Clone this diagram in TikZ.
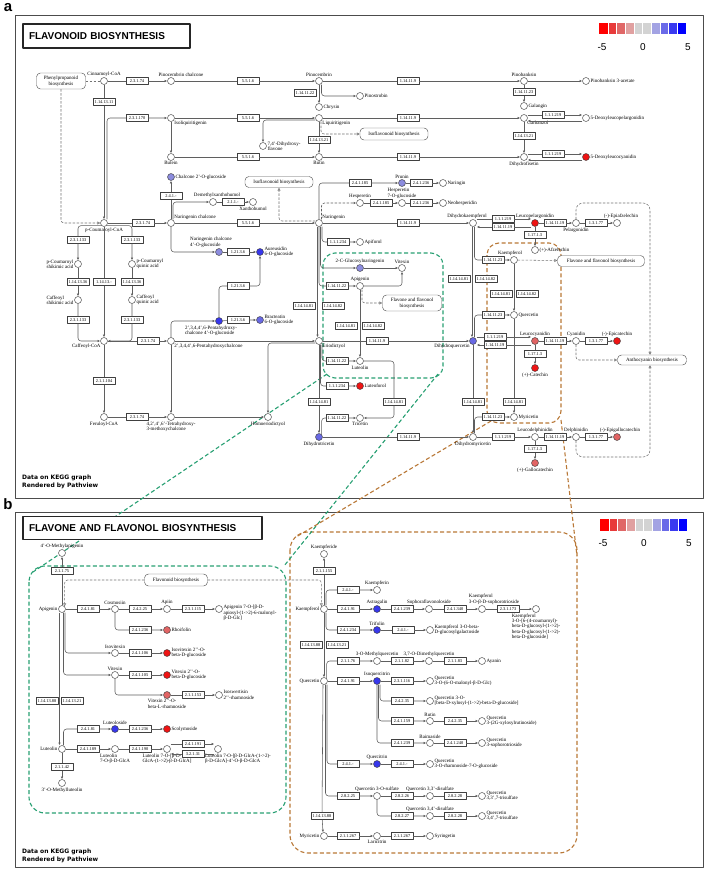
\documentclass[tikz,border=0pt]{standalone}
\usepackage{fontspec}
\setmainfont{Liberation Serif}
\newfontfamily\lsans{Liberation Sans}
\newfontfamily\dvsans{DejaVu Sans}
\usetikzlibrary{arrows.meta}
\definecolor{cLB}{RGB}{140,140,222}
\definecolor{cMB}{RGB}{105,105,228}
\definecolor{cB}{RGB}{55,55,235}
\definecolor{cR}{RGB}{238,20,20}
\definecolor{cPR}{RGB}{225,100,100}
\definecolor{gDash}{RGB}{40,160,115}
\definecolor{oDash}{RGB}{185,120,55}
\definecolor{lnC}{RGB}{95,95,95}
\definecolor{lg0}{HTML}{FF0000}
\definecolor{lg1}{HTML}{E83A3A}
\definecolor{lg2}{HTML}{E06767}
\definecolor{lg3}{HTML}{E0A0A0}
\definecolor{lg4}{HTML}{D3D3D3}
\definecolor{lg5}{HTML}{D3D3D3}
\definecolor{lg6}{HTML}{A3A3E3}
\definecolor{lg7}{HTML}{6A6AE8}
\definecolor{lg8}{HTML}{3A3AF0}
\definecolor{lg9}{HTML}{0000FF}
\tikzset{
 cpd/.style={circle, draw=black!75, line width=0.45pt, minimum size=7pt, inner sep=0pt, fill=white},
 enz/.style={rectangle, draw=black!75, line width=0.4pt, fill=white, font=\fontsize{4.4}{4.6}\selectfont, inner xsep=0.8pt, inner ysep=0pt, minimum height=7pt, minimum width=22pt},
 mapbox/.style={rectangle, rounded corners=4pt, draw=black!65, line width=0.45pt, fill=white, font=\fontsize{5}{5.6}\selectfont, align=center, inner xsep=3pt, inner ysep=1.5pt},
 rx/.style={draw=lnC, line width=0.55pt, rounded corners=3pt, -{Latex[length=2.6pt,width=2.4pt]}},
 mapln/.style={draw=black!55, line width=0.55pt, dash pattern=on 2.5pt off 1.5pt, rounded corners=3pt, -{Triangle[open,length=3pt,width=3pt]}},
 every label/.style={font=\fontsize{5}{5.4}\selectfont, inner sep=0.4pt, align=left, text=black},
 label distance=0.3pt,
 region/.style={line width=1.1pt, dash pattern=on 4pt off 2.5pt},
 frame/.style={draw=black!70, line width=0.8pt},
 titlebox/.style={draw=black!85, line width=1.1pt, fill=white, font=\lsans\bfseries\fontsize{10}{12}\selectfont, align=left, inner xsep=6pt},
}
\begin{document}
\begin{tikzpicture}[x=1pt, y=-1pt, line join=round]
\fill[white] (0,0) rectangle (708,871);
\useasboundingbox (0,0) rectangle (708,871);
% panels
\draw[frame] (15,15) rectangle (703,498);
\draw[frame] (15,512) rectangle (703,867);
% regions and their links
\draw[gDash, region, rounded corners=12pt] (323,253) rectangle (443,378);
\draw[oDash, region, rounded corners=12pt] (487,243) rectangle (561,423);
\draw[gDash, region, rounded corners=16pt] (29,566) rectangle (286,813);
\draw[oDash, region, rounded corners=18pt] (290,532) rectangle (577,853);
\coordinate (g1a) at (327,374); \coordinate (g1b) at (33,572);
\coordinate (g2a) at (438,374); \coordinate (g2b) at (284,566);
\coordinate (o1a) at (491,421); \coordinate (o1b) at (296,537);
\coordinate (o2a) at (561,420); \coordinate (o2b) at (577,556);
\draw[gDash, region] (g1a) -- (g1b);
\draw[gDash, region] (g2a) -- (g2b);
\draw[oDash, region] (o1a) -- (o1b);
\draw[oDash, region] (o2a) -- (o2b);
% titles and legends
\node[titlebox, text width=155pt, minimum height=24pt] (ta) at (106.5,36) {FLAVONOID BIOSYNTHESIS};
\node[titlebox, text width=227pt, minimum height=23pt] (tb) at (142.5,528) {FLAVONE AND FLAVONOL BIOSYNTHESIS};
\node[font=\lsans\bfseries\fontsize{15}{15}\selectfont, inner sep=0pt] (pa) at (8,8) {a};
\node[font=\lsans\bfseries\fontsize{15}{15}\selectfont, inner sep=0pt] (pb) at (8,504) {b};
\foreach \i in {0,...,9} {
  \fill[lg\i] ({599+8.7*\i},23) rectangle ({599+8.7*(\i+1)},34);
  \fill[lg\i] ({600+8.7*\i},519) rectangle ({600+8.7*(\i+1)},531);
}
\foreach \i in {1,...,9} {
  \draw[white, line width=0.4pt] ({599+8.7*\i},23) -- ++(0,11);
  \draw[white, line width=0.4pt] ({600+8.7*\i},519) -- ++(0,12);
}
\node[font=\lsans\fontsize{10}{12}\selectfont] (la1) at (602,47) {-5};
\node[font=\lsans\fontsize{10}{12}\selectfont] (la2) at (643,47) {0};
\node[font=\lsans\fontsize{10}{12}\selectfont] (la3) at (688,47) {5};
\node[font=\lsans\fontsize{10}{12}\selectfont] (lb1) at (603,543) {-5};
\node[font=\lsans\fontsize{10}{12}\selectfont] (lb2) at (644,543) {0};
\node[font=\lsans\fontsize{10}{12}\selectfont] (lb3) at (689,543) {5};
\node[anchor=north west, font=\dvsans\bfseries\fontsize{6}{7.5}\selectfont, align=left, inner sep=0pt] (dataA) at (22,475) {Data on KEGG graph\\Rendered by Pathview};
\node[anchor=north west, font=\dvsans\bfseries\fontsize{6}{7.5}\selectfont, align=left, inner sep=0pt] (dataB) at (22,849) {Data on KEGG graph\\Rendered by Pathview};

% ===== panel a: map boxes
\node[mapbox, minimum width=49pt, minimum height=16pt] (phen) at (61,81) {Phenylpropanoid\\biosynthesis};
\node[mapbox, minimum width=68pt, minimum height=12pt] (isoflavA) at (394,134) {Isoflavonoid biosynthesis};
\node[mapbox, minimum width=68pt, minimum height=11pt] (isoflavB) at (279,182) {Isoflavonoid biosynthesis};
\node[mapbox, minimum width=59pt, minimum height=16pt] (ffbA) at (412,303) {Flavone and flavonol\\biosynthesis};
\node[mapbox, minimum width=87pt, minimum height=11pt] (ffbB) at (601,261) {Flavone and flavonol biosynthesis};
\node[mapbox, minimum width=69pt, minimum height=10pt] (antho) at (652,360) {Anthocyanin biosynthesis};

% ===== panel a: compounds
\node[cpd, label={above:Cinnamoyl-CoA}] (cin) at (104,81) {};
\node[cpd, label={[xshift=10pt]above:Pinocembrin chalcone}] (pcc) at (171,81) {};
\node[cpd, label={above:Pinocembrin}] (pino) at (319,81) {};
\node[cpd, label={right:Chrysin}] (chry) at (319,107) {};
\node[cpd, label={right:Pinostrobin}] (pinst) at (360,96) {};
\node[cpd, label={above:Pinobanksin}] (pinob) at (524,81) {};
\node[cpd, label={right:Pinobanksin 3-acetate}] (pinoba) at (586,81) {};
\node[cpd, label={right:Galangin}] (gal) at (524,106) {};
\node[cpd, label={below right:Isoliquiritigenin}] (isoliq) at (171,118) {};
\node[cpd, label={below:Butein}] (butein) at (171,157) {};
\node[cpd, label={below right:Liquiritigenin}] (liq) at (319,118) {};
\node[cpd, label={right:{7,4'-Dihydroxy-\\flavone}}] (dhf) at (263,146) {};
\node[cpd, label={below:Butin}] (butin) at (319,157) {};
\node[cpd, label={below right:Garbanzol}] (garb) at (524,118) {};
\node[cpd, label={right:5-Deoxyleucopelargonidin}] (dlpel) at (586,118) {};
\node[cpd, label={below:Dihydrofisetin}] (dhfis) at (524,157) {};
\node[cpd, fill=cR, label={right:5-Deoxyleucocyanidin}] (dlcya) at (586,157) {};
\node[cpd, fill=cLB, label={right:Chalcone 2'-O-glucoside}] (c2g) at (171,177) {};
\node[cpd, label={above right:Naringenin chalcone}] (narch) at (171,223) {};
\node[cpd, label={[xshift=4pt]above:Demethylxanthohumol}] (dmx) at (213,202) {};
\node[cpd, label={below:Xanthohumol}] (xan) at (253,202) {};
\node[cpd, label={below:p-Coumaroyl-CoA}] (pcoa) at (104,223) {};
\node[cpd, label={above right:Naringenin}] (nar) at (319,223) {};
\node[cpd, label={[xshift=-6pt]above:Dihydrokaempferol}] (dhk) at (473,223) {};
\node[cpd, fill=cLB, label={above:Prunin}] (prunin) at (402,183) {};
\node[cpd, label={right:Naringin}] (naringin) at (443,183) {};
\node[cpd, label={above:Hesperetin}] (hesp) at (360,203) {};
\node[cpd, label={above:{Hesperetin\\7-O-glucoside}}] (hesp7) at (402,203) {};
\node[cpd, label={right:Neohesperidin}] (neohesp) at (443,203) {};
\node[cpd, label={right:Apiforol}] (apif) at (360,242) {};
\node[cpd, fill=cLB, label={[xshift=-8pt]above:{Naringenin chalcone\\4'-O-glucoside}}] (ncg) at (219,252) {};
\node[cpd, fill=cB, label={right:{Aureusidin\\6-O-glucoside}}] (aur) at (260,252) {};
\node[cpd, fill=cB, label={[xshift=-8pt]below:{2',3,4,4',6-Pentahydroxy-\\chalcone 4'-O-glucoside}}] (phg) at (219,321) {};
\node[cpd, fill=cMB, label={right:{Bracteatin\\6-O-glucoside}}] (bract) at (260,320) {};
\node[cpd, fill=cLB, label={above:2-C-Glucosylnaringenin}] (cgn) at (360,268) {};
\node[cpd, label={above:Vitexin}] (vitx) at (402,268) {};
\node[cpd, label={above:Apigenin}] (api) at (360,286) {};
\node[cpd, label={below right:Eriodictyol}] (erio) at (319,341) {};
\node[cpd, fill=cMB, label={below left:Dihydroquercetin}] (dhq) at (473,341) {};
\node[cpd, label={below:Luteolin}] (lut) at (360,361) {};
\node[cpd, fill=cR, label={right:Luteoforol}] (lutf) at (360,386) {};
\node[cpd, label={below:Tricetin}] (tric) at (360,418) {};
\node[cpd, fill=cMB, label={below:Dihydrotricetin}] (dht) at (319,437) {};
\node[cpd, label={below:Dihydromyricetin}] (dhm) at (473,437) {};
\node[cpd, label={below:Homoeriodictyol}] (homo) at (268,417) {};
\node[cpd, label={below right:{2',3,4,4',6-Pentahydroxychalcone}}] (pent) at (171,341) {};
\node[cpd, label={below left:Caffeoyl-CoA}] (caf) at (104,341) {};
\node[cpd, label={left:{p-Coumaroyl\\shikimic acid}}] (pcsa) at (78,264) {};
\node[cpd, label={right:{p-Coumaroyl\\quinic acid}}] (pcqa) at (132,264) {};
\node[cpd, label={left:{Caffeoyl\\shikimic acid}}] (cfsa) at (78,300) {};
\node[cpd, label={right:{Caffeoyl\\quinic acid}}] (cfqa) at (132,300) {};
\node[cpd, label={below:Feruloyl-CoA}] (fer) at (104,417) {};
\node[cpd, label={below:{4,2',4',6'-Tetrahydroxy-\\3-methoxychalcone}}] (tetra) at (171,417) {};
\node[cpd, fill=cR, label={above:Leucopelargonidin}] (lpel) at (535,223) {};
\node[cpd, label={below:Pelargonidin}] (pel) at (576,223) {};
\node[cpd, label={[xshift=4pt]above:(-)-Epiafzelechin}] (epiaf) at (617,223) {};
\node[cpd, label={right:(+)-Afzelechin}] (afz) at (535,250) {};
\node[cpd, label={[xshift=-4pt]above:Kaempferol}] (kae) at (514,260) {};
\node[cpd, label={right:Quercetin}] (que) at (514,315) {};
\node[cpd, fill=cPR, label={above:Leucocyanidin}] (lcya) at (535,341) {};
\node[cpd, label={above:Cyanidin}] (cya) at (576,341) {};
\node[cpd, fill=cR, label={above:(-)-Epicatechin}] (epic) at (617,341) {};
\node[cpd, fill=cR, label={below:(+)-Catechin}] (cat) at (535,368) {};
\node[cpd, label={right:Myricetin}] (myr) at (514,417) {};
\node[cpd, label={above:Leucodelphinidin}] (ldel) at (535,437) {};
\node[cpd, label={above:Delphinidin}] (del) at (576,437) {};
\node[cpd, fill=cPR, label={[xshift=3pt]above:(-)-Epigallocatechin}] (epig) at (617,437) {};
\node[cpd, fill=cPR, label={below:(+)-Gallocatechin}] (gcat) at (535,463) {};

% ===== panel a: enzymes
\node[enz] (e1) at (137,81) {2.3.1.74};
\node[enz] (e2) at (248,81) {5.5.1.6};
\node[enz] (e3) at (104,102) {1.14.13.11};
\node[enz] (e4) at (137,118) {2.3.1.170};
\node[enz] (e5) at (248,118) {5.5.1.6};
\node[enz] (e6) at (248,157) {5.5.1.6};
\node[enz] (e7) at (171,196) {2.4.1.-};
\node[enz] (e8) at (233,202) {2.1.1.-};
\node[enz] (e9) at (143,223) {2.3.1.74};
\node[enz] (e10) at (248,223) {5.5.1.6};
\node[enz] (e11) at (78,240) {2.3.1.133};
\node[enz] (e12) at (132,240) {2.3.1.133};
\node[enz] (e13) at (78,282) {1.14.13.36};
\node[enz] (e14) at (104,282) {1.14.13.-};
\node[enz] (e15) at (132,282) {1.14.13.36};
\node[enz] (e16) at (78,320) {2.3.1.133};
\node[enz] (e17) at (132,320) {2.3.1.133};
\node[enz] (e18) at (148,341) {2.3.1.74};
\node[enz] (e19) at (104,381) {2.1.1.104};
\node[enz] (e20) at (137,417) {2.3.1.74};
\node[enz] (e21) at (305,93) {1.14.11.22};
\node[enz] (e22) at (408,81) {1.14.11.9};
\node[enz] (e23) at (319,140) {1.14.13.21};
\node[enz] (e24) at (408,118) {1.14.11.9};
\node[enz] (e25) at (408,157) {1.14.11.9};
\node[enz] (e26) at (524,92) {1.14.11.23};
\node[enz] (e27) at (553,115) {1.1.1.219};
\node[enz] (e28) at (524,136) {1.14.13.21};
\node[enz] (e29) at (553,154) {1.1.1.219};
\node[enz] (e30) at (360,183) {2.4.1.185};
\node[enz] (e31) at (421,183) {2.4.1.236};
\node[enz] (e32) at (381,203) {2.4.1.185};
\node[enz] (e33) at (421,203) {2.4.1.236};
\node[enz] (e34) at (408,223) {1.14.11.9};
\node[enz] (e35) at (338,242) {1.1.1.234};
\node[enz] (e36) at (238,252) {1.21.3.6};
\node[enz] (e37) at (238,286) {1.21.3.6};
\node[enz] (e38) at (238,320) {1.21.3.6};
\node[enz] (e39) at (337,286) {1.14.11.22};
\node[enz] (e40) at (304,306) {1.14.14.81};
\node[enz] (e41) at (333,306) {1.14.14.82};
\node[enz] (e42) at (346,326) {1.14.14.81};
\node[enz] (e43) at (373,326) {1.14.14.82};
\node[enz] (e44) at (377,341) {1.14.11.9};
\node[enz] (e45) at (337,361) {1.14.11.22};
\node[enz] (e46) at (337,386) {1.1.1.234};
\node[enz] (e47) at (394,402) {1.14.14.81};
\node[enz] (e48) at (337,418) {1.14.11.22};
\node[enz] (e49) at (319,402) {1.14.14.81};
\node[enz] (e50) at (408,437) {1.14.11.9};
\node[enz] (e51) at (459,279) {1.14.14.81};
\node[enz] (e52) at (486,279) {1.14.14.82};
\node[enz] (e53) at (493,260) {1.14.11.23};
\node[enz] (e54) at (501,294) {1.14.14.81};
\node[enz] (e55) at (527,294) {1.14.14.82};
\node[enz] (e56) at (493,315) {1.14.11.23};
\node[enz] (e57) at (503,219) {1.1.1.219};
\node[enz] (e58) at (503,227) {1.14.11.19};
\node[enz] (e59) at (555,223) {1.14.11.19};
\node[enz] (e60) at (596,223) {1.3.1.77};
\node[enz] (e61) at (535,235) {1.17.1.3};
\node[enz] (e62) at (495,337) {1.1.1.219};
\node[enz] (e63) at (495,345) {1.14.11.19};
\node[enz] (e64) at (555,341) {1.14.11.19};
\node[enz] (e65) at (596,341) {1.3.1.77};
\node[enz] (e66) at (535,354) {1.17.1.3};
\node[enz] (e67) at (473,402) {1.14.14.81};
\node[enz] (e68) at (514,402) {1.14.14.81};
\node[enz] (e69) at (493,417) {1.14.11.23};
\node[enz] (e70) at (503,437) {1.1.1.219};
\node[enz] (e71) at (555,437) {1.14.11.19};
\node[enz] (e72) at (596,437) {1.3.1.77};
\node[enz] (e73) at (535,449) {1.17.1.3};

% ===== panel a: connectors
\draw[draw=black!55, line width=0.55pt, dash pattern=on 2.5pt off 1.5pt] (phen) -- (cin);
\draw[mapln] (phen.south) |- (pcoa);
\draw[rx] (cin) -- (e1) -- (pcc);
\draw[rx] (pcc) -- (e2) -- (pino);
\draw[rx] (cin) -- (e3) -- (pcoa);
\draw[rx] ([xshift=3pt]pcoa.north) |- (e4) -- (isoliq);
\draw[rx] (isoliq) -- (butein);
\draw[rx] (isoliq) -- (e5) -- (liq);
\draw[rx] (butein) -- (e6) -- (butin);
\draw[rx] (narch) -- (e7) -- (c2g);
\draw[rx] ([xshift=2pt]narch.north) |- (dmx);
\draw[rx] (dmx) -- (e8) -- (xan);
\draw[rx] (pcoa) -- (e9) -- (narch);
\draw[rx] (narch) -- (e10) -- (nar);
\draw[rx] (pcoa.south west) -| (e11) -- (pcsa);
\draw[rx] (pcoa.south east) -| (e12) -- (pcqa);
\draw[rx] (pcsa) -- (e13) -- (cfsa);
\draw[rx] (pcoa) -- (e14) -- (caf);
\draw[rx] (pcqa) -- (e15) -- (cfqa);
\draw[rx] (cfsa) -- (e16) |- (caf);
\draw[rx] (cfqa) -- (e17) |- (caf);
\draw[rx] (caf) -- (e18) -- (pent);
\draw[rx] (caf) -- (e19) -- (fer);
\draw[rx] (fer) -- (e20) -- (tetra);
\draw[rx] (pent) -- (tetra);
\draw[rx] (narch.south) |- (ncg);
\draw[rx] (ncg) -- (e36) -- (aur);
\draw[rx] (pent.north) |- (phg);
\draw[rx] (phg.north) |- (e37) -| (aur);
\draw[rx] (phg) -- (e38) -- (bract);
\draw[rx] (pent) -- (erio);
\draw[rx] (tetra) -- (homo);
\draw[rx] ([yshift=-2pt]erio.west) -| (homo);
\draw[rx] (pino) -- (chry);
\draw[rx] ([xshift=2.5pt]pino.south) |- (pinst);
\draw[rx] (pino) -- (e22) -- (pinob);
\draw[rx] (pinob) -- (pinoba);
\draw[rx] (pinob) -- (e26) -- (gal);
\draw[rx] (liq) -- (e23) -- (butin);
\draw[rx] ([yshift=-2pt]liq.west) -| (dhf);
\draw[mapln] ([xshift=2pt]liq.south) |- (isoflavA);
\draw[rx] (liq) -- (e24) -- (garb);
\draw[rx] (butin) -- (e25) -- (dhfis);
\draw[rx] ([yshift=3pt]garb.east) -- (e27) -- ([yshift=3pt]dlpel.west);
\draw[rx] ([yshift=-3pt]dlpel.west) -- ([yshift=-3pt]garb.east);
\draw[rx] (garb) -- (e28) -- (dhfis);
\draw[rx] ([yshift=3pt]dhfis.east) -- (e29) -- ([yshift=3pt]dlcya.west);
\draw[rx] ([yshift=-3pt]dlcya.west) -- ([yshift=-3pt]dhfis.east);
\draw[mapln] ([yshift=2pt]nar.west) -| (isoflavB);
\draw[rx] (nar.north) |- (e30) -- (prunin);
\draw[rx, dash pattern=on 2.5pt off 1.5pt] ([xshift=2.5pt]nar.north) |- (hesp);
\draw[rx] (prunin) -- (e31) -- (naringin);
\draw[rx] (hesp) -- (e32) -- (hesp7);
\draw[rx] (hesp7) -- (e33) -- (neohesp);
\draw[rx] (nar) -- (e34) -- (dhk);
\draw[rx] ([xshift=3pt]nar.south) |- (e35) -- (apif);
\draw[rx] ([xshift=1.5pt]nar.south) |- (cgn);
\draw[rx] (nar.south) |- (e39) -- (api);
\draw[rx] ([xshift=-1.5pt]nar.south) -- ([xshift=-1.5pt]erio.north);
\draw[rx] (cgn) -- (vitx);
\draw[rx] (api) -| (vitx);
\draw[mapln] ([xshift=2pt]api.south) |- (ffbA);
\draw[rx] (api) -- (lut);
\draw[rx] (erio) -- (e44) -- (dhq);
\draw[rx] ([xshift=3pt]erio.south) |- (e45) -- (lut);
\draw[rx] ([xshift=1.5pt]erio.south) |- (e46) -- (lutf);
\draw[rx] (erio) -- (e49) -- (dht);
\draw[rx] (lut) -| (e47) |- (tric);
\draw[rx] (dht.north east) |- (e48) -- (tric);
\draw[rx] (dht) -- (e50) -- (dhm);
\draw[rx] ([xshift=-1pt]dhk.south) -- ([xshift=-1pt]dhq.north);
\draw[rx] ([xshift=1.5pt]dhk.south) |- (e53) -- (kae);
\draw[rx] (kae) -- (que);
\draw[mapln] (kae) -- (ffbB);
\draw[rx] ([xshift=1.5pt]dhq.north) |- (e56) -- (que);
\draw[rx] ([yshift=4pt]dhk.east) -- (e57) -- ([yshift=4pt]lpel.west);
\draw[rx] ([yshift=-4pt]lpel.west) -- (e58) -- ([yshift=-4pt]dhk.east);
\draw[rx] (lpel) -- (e59) -- (pel);
\draw[rx] (pel) -- (e60) -- (epiaf);
\draw[rx] (lpel) -- (e61) -- (afz);
\draw[rx] ([yshift=4pt]dhq.east) -- (e62) -- ([yshift=4pt]lcya.west);
\draw[rx] ([yshift=-4pt]lcya.west) -- (e63) -- ([yshift=-4pt]dhq.east);
\draw[rx] (lcya) -- (e64) -- (cya);
\draw[rx] (cya) -- (e65) -- (epic);
\draw[rx] (lcya) -- (e66) -- (cat);
\draw[mapln] (cya.south) |- (antho);
\draw[rx] (dhq) -- (e67) -- (dhm);
\draw[rx] (que) -- (e68) -- (myr);
\draw[rx] ([xshift=1.5pt]dhm.north) |- (e69) -- (myr);
\draw[rx] (dhm) -- (e70) -- (ldel);
\draw[rx] (ldel) -- (e71) -- (del);
\draw[rx] (del) -- (e72) -- (epig);
\draw[rx] (ldel) -- (e73) -- (gcat);
\coordinate (atop) at (650,203);
\coordinate (abot) at (650,457);
\draw[mapln, rounded corners=7pt] (pel.north) |- (atop) -- (atop |- antho.north);
\draw[mapln, rounded corners=7pt] (del.south) |- (abot) -- (abot |- antho.south);

% ===== panel b: nodes
\node[mapbox, minimum width=63pt, minimum height=12pt] (flavb) at (176,580) {Flavonoid biosynthesis};
\node[cpd, label={above:4'-O-Methylapigenin}] (meapi) at (62,553) {};
\node[cpd, label={left:Apigenin}] (apib) at (62,609) {};
\node[cpd, label={above:Cosmosiin}] (cosm) at (115,609) {};
\node[cpd, label={above:Apiin}] (apiin) at (167,609) {};
\node[cpd, label={[yshift=-4pt]right:{Apigenin 7-O-[β-D-\\apiosyl-(1->2)-6-malonyl-\\β-D-Glc]}}] (apimal) at (219,609) {};
\node[cpd, fill=cPR, label={right:Rhoifolin}] (rhoi) at (167,630) {};
\node[cpd, label={above:Isovitexin}] (isov) at (115,653) {};
\node[cpd, fill=cR, label={right:{Isovitexin 2'{}'-O-\\beta-D-glucoside}}] (isovg) at (167,653) {};
\node[cpd, label={above:Vitexin}] (vitb) at (115,675) {};
\node[cpd, fill=cR, label={right:{Vitexin 2'{}'-O-\\beta-D-glucoside}}] (vitg) at (167,675) {};
\node[cpd, fill=cPR, label={below:{Vitexin 2'{}'-O-\\beta-L-rhamnoside}}] (vitr) at (167,695) {};
\node[cpd, label={right:{Isoswertisin\\2'{}'-rhamnoside}}] (isosw) at (219,695) {};
\node[cpd, label={left:Luteolin}] (lutb) at (62,749) {};
\node[cpd, fill=cB, label={above:Luteoloside}] (luteo) at (115,729) {};
\node[cpd, fill=cR, label={right:Scolymoside}] (scoly) at (167,729) {};
\node[cpd, label={below:{Luteolin\\7-O-β-D-GlcA}}] (lgl) at (115,749) {};
\node[cpd, label={below:{Luteolin 7-O-[β-D-\\GlcA-(1->2)-β-D-GlcA]}}] (lgl2) at (167,749) {};
\node[cpd, label={[xshift=20pt]below:{Luteolin 7-O-[β-D-GlcA-(1->2)-\\β-D-GlcA]-4'-O-β-D-GlcA}}] (lgl3) at (218,749) {};
\node[cpd, label={below:3'-O-Methylluteolin}] (mlut) at (62,783) {};
\node[cpd, label={above:Kaempferide}] (kaemd) at (324,554) {};
\node[cpd, label={left:Kaempferol}] (kaemb) at (324,609) {};
\node[cpd, label={above:Kaempferin}] (kaemn) at (377,590) {};
\node[cpd, fill=cB, label={above:Astragalin}] (astr) at (377,609) {};
\node[cpd, label={above:Sophoraflavonoloside}] (soph) at (429,609) {};
\node[cpd, label={[xshift=12pt]above:{Kaempferol\\3-O-β-D-sophorotrioside}}] (ksoph) at (482,609) {};
\node[cpd, label={below:{Kaempferol\\3-O-[6-(4-coumaroyl)-\\beta-D-glucosyl-(1->2)-\\beta-D-glucosyl-(1->2)-\\beta-D-glucoside]}}] (kcou) at (536,609) {};
\node[cpd, fill=cB, label={above:Trifolin}] (trif) at (377,630) {};
\node[cpd, label={right:{Kaempferol 3-O-beta-\\D-glucosylgalactoside}}] (kgal) at (430,630) {};
\node[cpd, label={above:3-O-Methylquercetin}] (mque) at (377,661) {};
\node[cpd, label={above:{3,7-O-Dimethylquercetin}}] (dmque) at (429,661) {};
\node[cpd, label={right:Ayanin}] (ayan) at (482,661) {};
\node[cpd, label={left:Quercetin}] (queb) at (324,681) {};
\node[cpd, fill=cB, label={above:Isoquercitrin}] (isoq) at (377,681) {};
\node[cpd, label={right:{Quercetin\\3-O-(6-O-malonyl-β-D-Glc)}}] (qmal) at (430,681) {};
\node[cpd, label={right:{Quercetin 3-O-\\{}[beta-D-xylosyl-(1->2)-beta-D-glucoside]}}] (qxyl) at (430,701) {};
\node[cpd, label={above:Rutin}] (rutin) at (430,721) {};
\node[cpd, label={right:{Quercetin\\3-(2G-xylosylrutinoside)}}] (qxr) at (482,721) {};
\node[cpd, label={above:Baimaside}] (baim) at (430,743) {};
\node[cpd, label={right:{Quercetin\\3-sophorotrioside}}] (qsoph) at (482,743) {};
\node[cpd, fill=cB, label={above:Quercitrin}] (querc) at (377,764) {};
\node[cpd, label={right:{Quercetin\\3-O-rhamnoside-7-O-glucoside}}] (qrg) at (430,764) {};
\node[cpd, label={above:Quercetin 3-O-sulfate}] (qs) at (377,796) {};
\node[cpd, label={above:{Quercetin 3,3'-disulfate}}] (qds) at (430,796) {};
\node[cpd, label={right:{Quercetin\\3,3',7-trisulfate}}] (qts) at (482,796) {};
\node[cpd, label={above:{Quercetin 3,4'-disulfate}}] (qds2) at (430,816) {};
\node[cpd, label={right:{Quercetin\\3,4',7-trisulfate}}] (qts2) at (482,816) {};
\node[cpd, label={left:Myricetin}] (myrb) at (324,836) {};
\node[cpd, label={below:Laricitrin}] (laric) at (377,836) {};
\node[cpd, label={right:Syringetin}] (syr) at (430,836) {};

\node[enz] (f1) at (62,571) {2.1.1.75};
\node[enz] (f2) at (88,609) {2.4.1.81};
\node[enz] (f3) at (140,609) {2.4.2.25};
\node[enz] (f4) at (193,609) {2.3.1.115};
\node[enz] (f5) at (140,630) {2.4.1.236};
\node[enz] (f6) at (140,653) {2.4.1.106};
\node[enz] (f7) at (140,675) {2.4.1.105};
\node[enz] (f8) at (193,695) {2.1.1.153};
\node[enz] (f9) at (47,701) {1.14.13.88};
\node[enz] (f10) at (72,701) {1.14.13.21};
\node[enz] (f11) at (88,729) {2.4.1.81};
\node[enz] (f12) at (140,729) {2.4.1.236};
\node[enz] (f13) at (88,749) {2.4.1.189};
\node[enz] (f14) at (140,749) {2.4.1.190};
\node[enz] (f15) at (193,744) {2.4.1.191};
\node[enz] (f16) at (193,754) {3.2.1.31};
\node[enz] (f17) at (62,767) {2.1.1.42};
\node[enz] (f18) at (324,571) {2.1.1.155};
\node[enz] (f19) at (348,590) {2.4.1.-};
\node[enz] (f20) at (348,609) {2.4.1.91};
\node[enz] (f21) at (402,609) {2.4.1.239};
\node[enz] (f22) at (455,609) {2.4.1.340};
\node[enz] (f23) at (508,609) {2.3.1.173};
\node[enz] (f24) at (348,630) {2.4.1.234};
\node[enz] (f25) at (403,630) {2.4.1.-};
\node[enz] (f26) at (311,645) {1.14.13.88};
\node[enz] (f27) at (337,645) {1.14.13.21};
\node[enz] (f28) at (348,661) {2.1.1.76};
\node[enz] (f29) at (402,661) {2.1.1.82};
\node[enz] (f30) at (455,661) {2.1.1.83};
\node[enz] (f31) at (348,681) {2.4.1.91};
\node[enz] (f32) at (402,681) {2.3.1.116};
\node[enz] (f33) at (402,701) {2.4.2.35};
\node[enz] (f34) at (402,721) {2.4.1.159};
\node[enz] (f35) at (455,721) {2.4.2.35};
\node[enz] (f36) at (402,743) {2.4.1.239};
\node[enz] (f37) at (455,743) {2.4.1.240};
\node[enz] (f38) at (348,764) {2.4.1.-};
\node[enz] (f39) at (402,764) {2.4.1.-};
\node[enz] (f40) at (348,796) {2.8.2.25};
\node[enz] (f41) at (402,796) {2.8.2.26};
\node[enz] (f42) at (455,796) {2.8.2.28};
\node[enz] (f43) at (402,816) {2.8.2.27};
\node[enz] (f44) at (455,816) {2.8.2.28};
\node[enz] (f45) at (322,816) {1.14.13.88};
\node[enz] (f46) at (348,836) {2.1.1.267};
\node[enz] (f47) at (402,836) {2.1.1.267};

% ===== panel b: connectors
\draw[mapln] (flavb) -| (apib.north east);
\draw[mapln] (flavb) -| (kaemb.north west);
\draw[rx] (apib) -- (f1) -- (meapi);
\draw[rx] (apib) -- (f2) -- (cosm);
\draw[rx] (cosm) -- (f3) -- (apiin);
\draw[rx] (apiin) -- (f4) -- (apimal);
\draw[rx] (cosm.south) |- (f5) -- (rhoi);
\draw[rx] ([xshift=3pt]apib.south) |- (isov);
\draw[rx] (isov) -- (f6) -- (isovg);
\draw[rx] ([xshift=1.5pt]apib.south) |- (vitb);
\draw[rx] (vitb) -- (f7) -- (vitg);
\draw[rx] (vitb.south) |- (vitr);
\draw[rx] (vitr) -- (f8) -- (isosw);
\draw[rx] ([xshift=-2.5pt]apib.south) -- ([xshift=-2.5pt]lutb.north);
\draw[rx] ([xshift=1.5pt]lutb.north) |- (f11) -- (luteo);
\draw[rx] (luteo) -- (f12) -- (scoly);
\draw[rx] (lutb) -- (f13) -- (lgl);
\draw[rx] (lgl) -- (f14) -- (lgl2);
\draw[rx] ([yshift=5pt]lgl2.east) -- (f15) -- ([yshift=5pt]lgl3.west);
\draw[rx] ([yshift=-5pt]lgl3.west) -- (f16) -- ([yshift=-5pt]lgl2.east);
\draw[rx] (lutb) -- (f17) -- (mlut);
\draw[rx] (kaemb) -- (f18) -- (kaemd);
\draw[rx] ([xshift=2pt]kaemb.north) |- (f19) -- (kaemn);
\draw[rx] (kaemb) -- (f20) -- (astr);
\draw[rx] (astr) -- (f21) -- (soph);
\draw[rx] (soph) -- (f22) -- (ksoph);
\draw[rx] (ksoph) -- (f23) -- (kcou);
\draw[rx] ([xshift=2pt]kaemb.south) |- (f24) -- (trif);
\draw[rx] (trif) -- (f25) -- (kgal);
\draw[rx] (kaemb) -- (queb);
\draw[rx] (queb.north east) |- (f28) -- (mque);
\draw[rx] (mque) -- (f29) -- (dmque);
\draw[rx] (dmque) -- (f30) -- (ayan);
\draw[rx] (queb) -- (f31) -- (isoq);
\draw[rx] (isoq) -- (f32) -- (qmal);
\draw[rx] ([xshift=3pt]isoq.south) |- (f33) -- (qxyl);
\draw[rx] ([xshift=1.5pt]isoq.south) |- (f34) -- (rutin);
\draw[rx] (isoq.south) |- (f36) -- (baim);
\draw[rx] (rutin) -- (f35) -- (qxr);
\draw[rx] (baim) -- (f37) -- (qsoph);
\draw[rx] ([xshift=3pt]queb.south) |- (f38) -- (querc);
\draw[rx] (querc) -- (f39) -- (qrg);
\draw[rx] ([xshift=1.5pt]queb.south) |- (f40) -- (qs);
\draw[rx] (qs) -- (f41) -- (qds);
\draw[rx] (qds) -- (f42) -- (qts);
\draw[rx] (qs.south) |- (f43) -- (qds2);
\draw[rx] (qds2) -- (f44) -- (qts2);
\draw[rx] ([xshift=-1pt]queb.south) -- (f45) -- ([xshift=-1pt]myrb.north);
\draw[rx] (myrb) -- (f46) -- (laric);
\draw[rx] (laric) -- (f47) -- (syr);
\end{tikzpicture}
\end{document}
